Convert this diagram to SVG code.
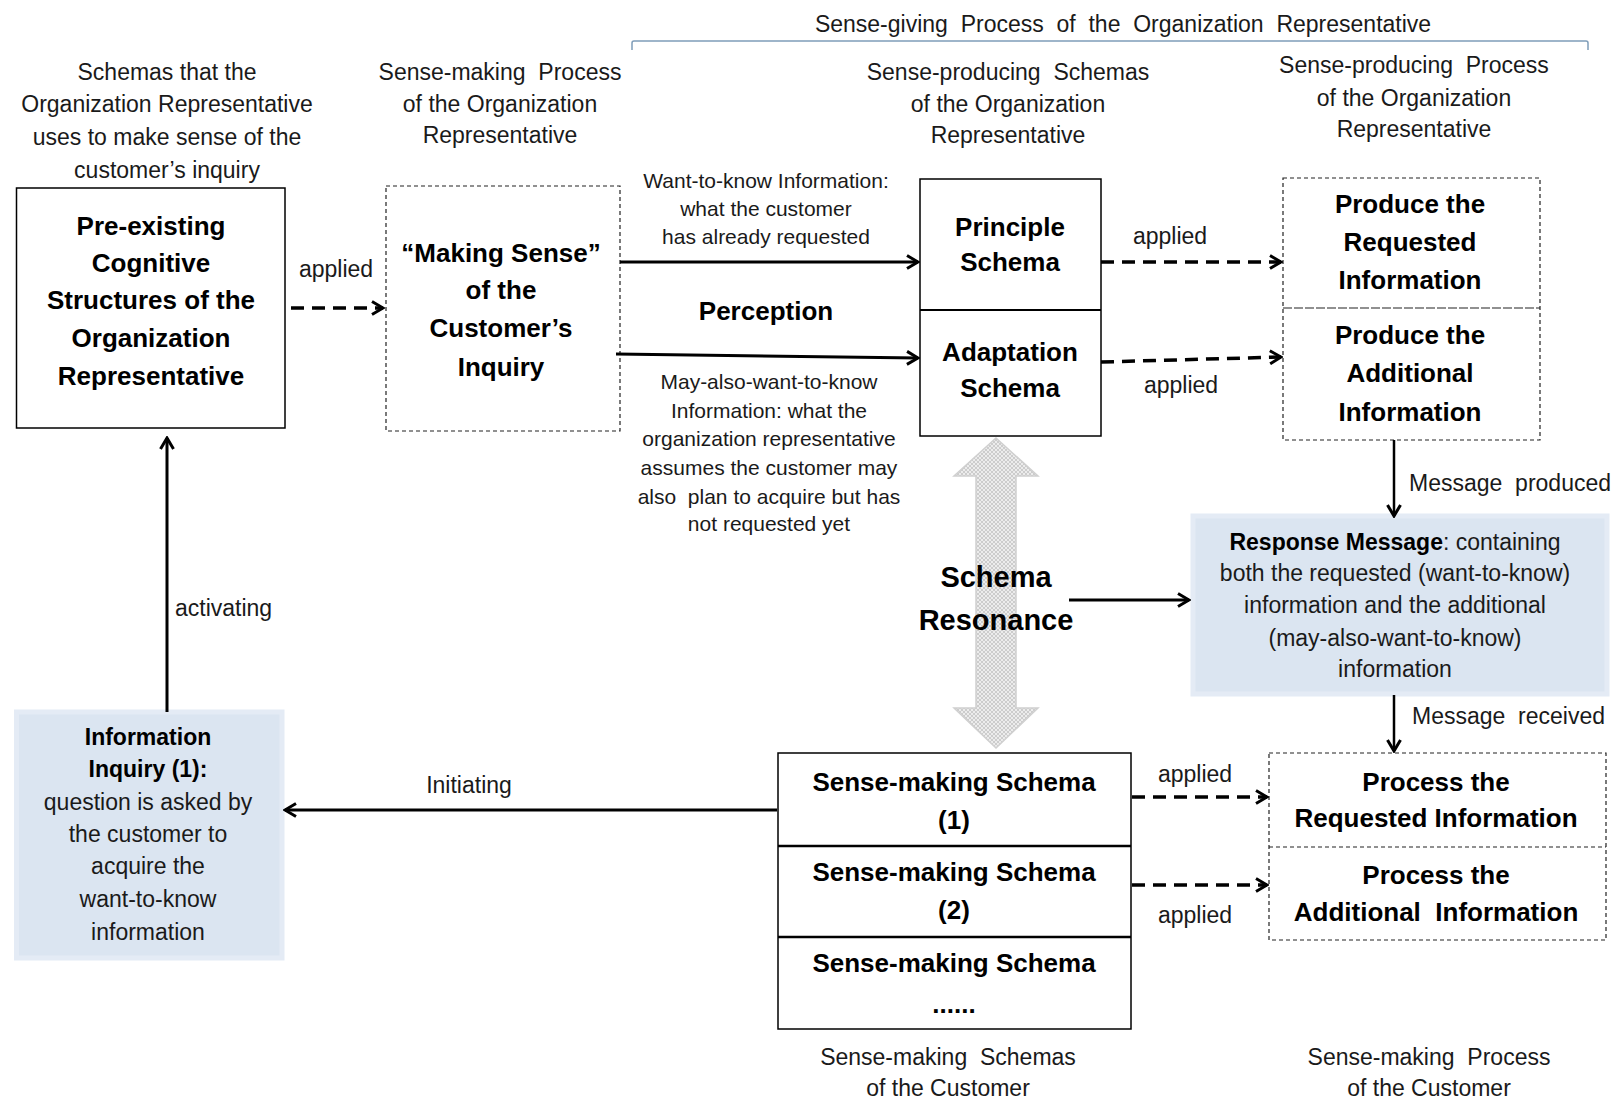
<svg xmlns="http://www.w3.org/2000/svg" width="1619" height="1100" viewBox="0 0 1619 1100">
<style>
text{font-family:"Liberation Sans",Arial,sans-serif;fill:#1a1a1a;text-anchor:middle;white-space:pre}
.h{font-size:23px}
.s{font-size:21px}
.b{font-size:26px;font-weight:bold;fill:#000}
.bi{font-size:23px;font-weight:bold;fill:#000}
.big{font-size:29px;font-weight:bold;fill:#000}
.lab{font-size:23px}
.st{text-anchor:start}
.box{fill:#fff;stroke:#000;stroke-width:1.5}
.dbox{fill:#fff;stroke:#222;stroke-width:1.2;stroke-dasharray:4 3}
.blue{fill:#dbe5f1;stroke:#e4ebf5;stroke-width:5}
.sol{fill:none;stroke:#000;stroke-width:3}
.dash{fill:none;stroke:#000;stroke-width:3.5;stroke-dasharray:13 8}
</style>
<defs>
<marker id="ah" markerUnits="userSpaceOnUse" viewBox="0 0 16 16" refX="14" refY="8" markerWidth="16" markerHeight="16" orient="auto">
<path d="M3,1.5 L14,8 L3,14.5" fill="none" stroke="#000" stroke-width="3"/>
</marker>
<pattern id="hatch" width="4" height="4" patternUnits="userSpaceOnUse">
<rect width="4" height="4" fill="#ececec"/>
<path d="M0,4 L4,0 M0,0 L4,4" stroke="#c4c4c4" stroke-width="0.8"/>
</pattern>
</defs>

<rect width="1619" height="1100" fill="#fff"/>

<g id="headers">
<text class="h" x="1123" y="32">Sense-giving  Process  of  the  Organization  Representative</text>
<path d="M632,50 L632,43 Q632,41 634,41 L1586,41 Q1588,41 1588,43 L1588,50" fill="none" stroke="#7f9db9" stroke-width="1.5"/>
<text class="h" x="167" y="80">Schemas that the</text>
<text class="h" x="167" y="112">Organization Representative</text>
<text class="h" x="167" y="145">uses to make sense of the</text>
<text class="h" x="167" y="178">customer’s inquiry</text>
<text class="h" x="500" y="80">Sense-making  Process</text>
<text class="h" x="500" y="112">of the Organization</text>
<text class="h" x="500" y="143">Representative</text>
<text class="h" x="1008" y="80">Sense-producing  Schemas</text>
<text class="h" x="1008" y="112">of the Organization</text>
<text class="h" x="1008" y="143">Representative</text>
<text class="h" x="1414" y="73">Sense-producing  Process</text>
<text class="h" x="1414" y="106">of the Organization</text>
<text class="h" x="1414" y="137">Representative</text>
<text class="h" x="948" y="1065">Sense-making  Schemas</text>
<text class="h" x="948" y="1096">of the Customer</text>
<text class="h" x="1429" y="1065">Sense-making  Process</text>
<text class="h" x="1429" y="1096">of the Customer</text>
</g>

<g id="node-preexisting">
<rect class="box" x="16.5" y="188" width="268.5" height="240"/>
<text class="b" x="151" y="235">Pre-existing</text>
<text class="b" x="151" y="272">Cognitive</text>
<text class="b" x="151" y="309">Structures of the</text>
<text class="b" x="151" y="347">Organization</text>
<text class="b" x="151" y="385">Representative</text>
</g>

<g id="node-makingsense">
<rect class="dbox" x="386" y="186" width="234" height="245"/>
<text class="b" x="501" y="262">“Making Sense”</text>
<text class="b" x="501" y="299">of the</text>
<text class="b" x="501" y="337">Customer’s</text>
<text class="b" x="501" y="376">Inquiry</text>
</g>

<g id="node-schemas">
<rect class="box" x="920" y="179" width="181" height="257"/>
<line x1="920" y1="310" x2="1101" y2="310" stroke="#000" stroke-width="2"/>
<text class="b" x="1010" y="236">Principle</text>
<text class="b" x="1010" y="271">Schema</text>
<text class="b" x="1010" y="361">Adaptation</text>
<text class="b" x="1010" y="397">Schema</text>
</g>

<g id="node-produce">
<rect class="dbox" x="1283" y="178" width="257" height="262"/>
<line x1="1283" y1="308" x2="1540" y2="308" stroke="#222" stroke-width="1.2" stroke-dasharray="9 2"/>
<text class="b" x="1410" y="213">Produce the</text>
<text class="b" x="1410" y="251">Requested</text>
<text class="b" x="1410" y="289">Information</text>
<text class="b" x="1410" y="344">Produce the</text>
<text class="b" x="1410" y="382">Additional</text>
<text class="b" x="1410" y="421">Information</text>
</g>

<g id="node-response">
<rect class="blue" x="1193" y="516" width="414" height="178"/>
<text class="h" x="1395" y="550"><tspan font-weight="bold" fill="#000">Response Message</tspan>: containing</text>
<text class="h" x="1395" y="581">both the requested (want-to-know)</text>
<text class="h" x="1395" y="613">information and the additional</text>
<text class="h" x="1395" y="646">(may-also-want-to-know)</text>
<text class="h" x="1395" y="677">information</text>
</g>

<g id="node-resonance">
<polygon points="996,438 1038,476 1016,476 1016,708 1038,708 996,748 954,708 976,708 976,476 954,476" fill="url(#hatch)" stroke="#d0d0d0" stroke-width="1.5"/>
<text class="big" x="996" y="587">Schema</text>
<text class="big" x="996" y="630">Resonance</text>
</g>

<g id="node-inquiry">
<rect class="blue" x="16.5" y="712" width="265.5" height="246"/>
<text class="bi" x="148" y="745">Information</text>
<text class="bi" x="148" y="777">Inquiry (1):</text>
<text class="h" x="148" y="810">question is asked by</text>
<text class="h" x="148" y="842">the customer to</text>
<text class="h" x="148" y="874">acquire the</text>
<text class="h" x="148" y="907">want-to-know</text>
<text class="h" x="148" y="940">information</text>
</g>

<g id="node-customer-schemas">
<rect class="box" x="778" y="753" width="353" height="276"/>
<line x1="778" y1="846" x2="1131" y2="846" stroke="#000" stroke-width="2.5"/>
<line x1="778" y1="937" x2="1131" y2="937" stroke="#000" stroke-width="2.5"/>
<text class="b" x="954" y="791">Sense-making Schema</text>
<text class="b" x="954" y="829">(1)</text>
<text class="b" x="954" y="881">Sense-making Schema</text>
<text class="b" x="954" y="919">(2)</text>
<text class="b" x="954" y="972">Sense-making Schema</text>
<text class="b" x="954" y="1013">......</text>
</g>

<g id="node-process">
<rect class="dbox" x="1269" y="753" width="337" height="187"/>
<line x1="1269" y1="847" x2="1606" y2="847" stroke="#222" stroke-width="1.2" stroke-dasharray="4 3"/>
<text class="b" x="1436" y="791">Process the</text>
<text class="b" x="1436" y="827">Requested Information</text>
<text class="b" x="1436" y="884">Process the</text>
<text class="b" x="1436" y="921">Additional  Information</text>
</g>

<g id="connectors">
<line class="dash" x1="291" y1="308" x2="383" y2="308" marker-end="url(#ah)"/>
<text class="lab" x="336" y="277">applied</text>

<line class="sol" x1="620" y1="262" x2="918" y2="262" marker-end="url(#ah)"/>
<line class="sol" x1="616" y1="354" x2="918" y2="358" marker-end="url(#ah)"/>
<text class="s" x="766" y="188">Want-to-know Information:</text>
<text class="s" x="766" y="216">what the customer</text>
<text class="s" x="766" y="244">has already requested</text>
<text class="b" x="766" y="320">Perception</text>
<text class="s" x="769" y="389">May-also-want-to-know</text>
<text class="s" x="769" y="418">Information: what the</text>
<text class="s" x="769" y="446">organization representative</text>
<text class="s" x="769" y="475">assumes the customer may</text>
<text class="s" x="769" y="504">also  plan to acquire but has</text>
<text class="s" x="769" y="531">not requested yet</text>

<line class="dash" x1="1101" y1="262" x2="1281" y2="262" marker-end="url(#ah)"/>
<text class="lab" x="1170" y="244">applied</text>
<line class="dash" x1="1101" y1="362" x2="1281" y2="357" marker-end="url(#ah)"/>
<text class="lab" x="1181" y="393">applied</text>

<line x1="1394" y1="440" x2="1394" y2="516" stroke="#000" stroke-width="2.5" marker-end="url(#ah)"/>
<text class="lab st" x="1409" y="491">Message  produced</text>

<line class="sol" x1="1069" y1="600" x2="1189" y2="600" marker-end="url(#ah)"/>

<line x1="1394" y1="695" x2="1394" y2="751" stroke="#000" stroke-width="2.5" marker-end="url(#ah)"/>
<text class="lab st" x="1412" y="724">Message  received</text>

<line class="dash" x1="1132" y1="797" x2="1267" y2="797" marker-end="url(#ah)"/>
<text class="lab" x="1195" y="782">applied</text>
<line class="dash" x1="1132" y1="885" x2="1267" y2="885" marker-end="url(#ah)"/>
<text class="lab" x="1195" y="923">applied</text>

<line class="sol" x1="777" y1="810" x2="285" y2="810" marker-end="url(#ah)"/>
<text class="lab" x="469" y="793">Initiating</text>

<line class="sol" x1="167" y1="712" x2="167" y2="438" marker-end="url(#ah)"/>
<text class="lab st" x="175" y="616">activating</text>
</g>
</svg>
